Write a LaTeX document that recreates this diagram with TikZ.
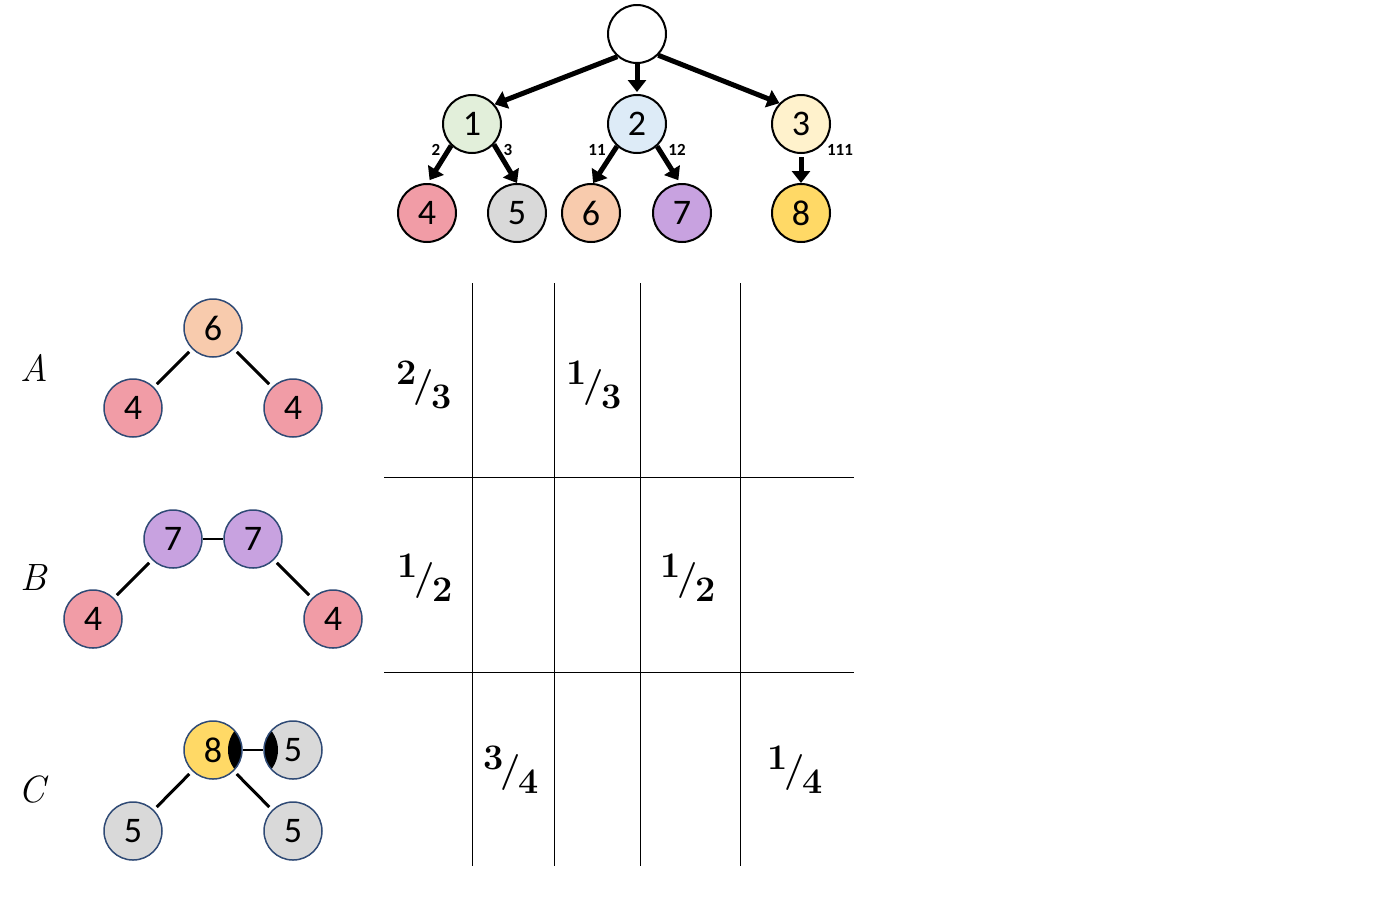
\documentclass[tikz,border=0pt]{standalone}
\usepackage{fontspec}
\usetikzlibrary{arrows.meta}
\newfontfamily\calib{Carlito}
\definecolor{cgreen}{HTML}{E2EFDA}
\definecolor{cblue}{HTML}{DDEBF7}
\definecolor{cyellowl}{HTML}{FFF2CC}
\definecolor{cpink}{HTML}{F19CA6}
\definecolor{cgray}{HTML}{D9D9D9}
\definecolor{cpeach}{HTML}{F8CBAD}
\definecolor{cpurple}{HTML}{C8A2E0}
\definecolor{cyellow}{HTML}{FFD966}
\definecolor{cborder}{HTML}{2F4A75}
\newcommand\myfr[2]{{\fontsize{36}{36}\selectfont\bfseries\raisebox{0.33em}{#1}\kern-0.08em/\kern-0.06em\raisebox{-0.33em}{#2}}}
\tikzset{
  topnode/.style={circle, draw=black, line width=2pt, minimum size=58pt, inner sep=0pt, font=\calib\fontsize{36}{36}\selectfont},
  leftnode/.style={circle, draw=cborder, line width=1.5pt, minimum size=58pt, inner sep=0pt, font=\calib\fontsize{36}{36}\selectfont},
  bigarrow/.style={line width=5pt, -{Triangle[length=12pt,width=18pt]}},
  smalllab/.style={font=\calib\bfseries\fontsize{17}{17}\selectfont, inner sep=0pt},
  leftedge/.style={line width=3pt, shorten <=4pt, shorten >=4pt},
  gridline/.style={line width=1pt},
  treelab/.style={font=\fontsize{38}{38}\selectfont\itshape, inner sep=0pt},
  fracnode/.style={inner sep=0pt},
  lensR/.style={path picture={\fill[black] ([xshift=46pt]path picture bounding box.center) circle[radius=31pt];}},
  lensL/.style={path picture={\fill[black] ([xshift=-46pt]path picture bounding box.center) circle[radius=31pt];}}
}
\begin{document}
\begin{tikzpicture}[x=1pt,y=-1pt]
\useasboundingbox (0,0) rectangle (1375,919);
% top tree
\node[topnode, fill=white] (r) at (637,34) {};
\node[topnode, fill=cgreen] (n1) at (472,124) {1};
\node[topnode, fill=cblue] (n2) at (637,124) {2};
\node[topnode, fill=cyellowl] (n3) at (801,124) {3};
\node[topnode, fill=cpink] (n4) at (427,213) {4};
\node[topnode, fill=cgray] (n5) at (517,213) {5};
\node[topnode, fill=cpeach] (n6) at (591,213) {6};
\node[topnode, fill=cpurple] (n7) at (682,213) {7};
\node[topnode, fill=cyellow] (n8) at (801,213) {8};
\draw[bigarrow] (r.229) -- (n1.41);
\draw[bigarrow] (r.south) -- ([yshift=2pt]n2.north);
\draw[bigarrow] (r.315) -- (n3.136);
\draw[bigarrow] (n1.226) -- ([yshift=3pt]n4.85);
\draw[bigarrow] (n1.317) -- (n5.north);
\draw[bigarrow] (n2.228) -- (n6.86);
\draw[bigarrow] (n2.312) -- ([yshift=3pt]n7.97);
\draw[bigarrow, shorten <=3pt] (n3.south) -- (n8.north);
\node[smalllab] (l2) at (436,150) {2};
\node[smalllab] (l3) at (508,150) {3};
\node[smalllab] (l11) at (597,150) {11};
\node[smalllab] (l12) at (677,150) {12};
\node[smalllab] (l111) at (840,150) {111};
% tree A
\node[treelab] (tA) at (34,368) {A};
\node[leftnode, fill=cpeach] (a6) at (213,328) {6};
\node[leftnode, fill=cpink] (a4l) at (133,408) {4};
\node[leftnode, fill=cpink] (a4r) at (293,408) {4};
\draw[leftedge] (a4l) -- (a6);
\draw[leftedge] (a6) -- (a4r);
% tree B
\node[treelab] (tB) at (34,578) {B};
\node[leftnode, fill=cpurple] (b7l) at (173,539) {7};
\node[leftnode, fill=cpurple] (b7r) at (253,539) {7};
\node[leftnode, fill=cpink] (b4l) at (93,619) {4};
\node[leftnode, fill=cpink] (b4r) at (333,619) {4};
\draw[line width=2pt] (b7l) -- (b7r);
\draw[leftedge] (b4l) -- (b7l);
\draw[leftedge] (b7r) -- (b4r);
% tree C
\node[treelab] (tC) at (32,790) {C};
\node[leftnode, fill=cyellow, lensR] (c8) at (213,750) {8};
\node[leftnode, fill=cgray, lensL] (c5r) at (293,750) {5};
\node[leftnode, fill=cgray] (c5bl) at (133,831) {5};
\node[leftnode, fill=cgray] (c5br) at (293,831) {5};
\draw[line width=2.5pt] (c8) -- (c5r);
\draw[leftedge] (c5bl) -- (c8);
\draw[leftedge] (c8) -- (c5br);
% grid
\coordinate (v1t) at (472,283); \coordinate (v1b) at (472,866);
\coordinate (v2t) at (554,283); \coordinate (v2b) at (554,866);
\coordinate (v3t) at (640,283); \coordinate (v3b) at (640,866);
\coordinate (v4t) at (740,283); \coordinate (v4b) at (740,866);
\coordinate (h1l) at (384,477); \coordinate (h1r) at (854,477);
\coordinate (h2l) at (384,672); \coordinate (h2r) at (854,672);
\draw[gridline] (v1t) -- (v1b);
\draw[gridline] (v2t) -- (v2b);
\draw[gridline] (v3t) -- (v3b);
\draw[gridline] (v4t) -- (v4b);
\draw[gridline] (h1l) -- (h1r);
\draw[gridline] (h2l) -- (h2r);
% fractions
\node[fracnode] (f1) at (424,385) {\myfr{2}{3}};
\node[fracnode] (f2) at (594,385) {\myfr{1}{3}};
\node[fracnode] (f3) at (425,578) {\myfr{1}{2}};
\node[fracnode] (f4) at (688,578) {\myfr{1}{2}};
\node[fracnode] (f5) at (511,770) {\myfr{3}{4}};
\node[fracnode] (f6) at (795,770) {\myfr{1}{4}};
\end{tikzpicture}
\end{document}
